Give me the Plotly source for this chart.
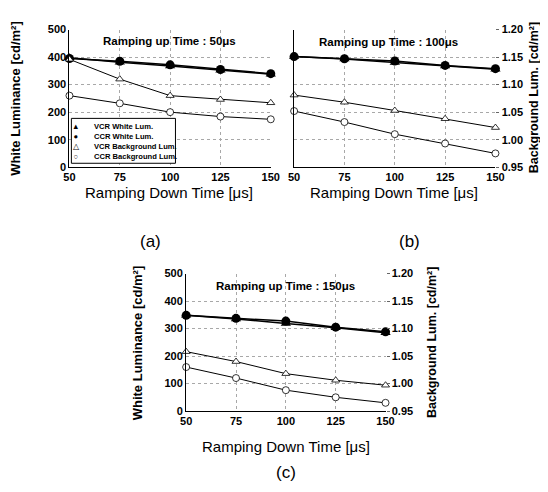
import plotly.graph_objects as go

W, H = 548, 492

ramp_down = [50, 75, 100, 125, 150]
x_ticks = [50, 75, 100, 125, 150]
white_ticks = [0, 100, 200, 300, 400, 500]
bg_ticks = [0.95, 1.00, 1.05, 1.10, 1.15, 1.20]

# (a) ramping up time 50 us
vcr_white_a = [398, 381, 368, 352, 338]
ccr_white_a = [395, 385, 372, 355, 340]
vcr_bg_a = [1.146, 1.110, 1.080, 1.073, 1.067]
ccr_bg_a = [1.080, 1.066, 1.050, 1.042, 1.037]

# (b) ramping up time 100 us
vcr_white_b = [402, 393, 380, 368, 356]
ccr_white_b = [402, 394, 386, 370, 358]
vcr_bg_b = [1.081, 1.068, 1.053, 1.038, 1.022]
ccr_bg_b = [1.052, 1.032, 1.010, 0.993, 0.975]

# (c) ramping up time 150 us
vcr_white_c = [348, 335, 318, 303, 285]
ccr_white_c = [348, 337, 327, 305, 288]
vcr_bg_c = [1.058, 1.040, 1.018, 1.006, 0.997]
ccr_bg_c = [1.030, 1.010, 0.988, 0.975, 0.965]

up_times = ["50", "100", "150"]
legend_labels = ["VCR White Lum.", "CCR White Lum.", "VCR Background Lum.", "CCR Background Lum."]
legend_symbols = ["▲", "●", "△", "○"]

FONT = "Liberation Sans, Arial, sans-serif"

def px_x(p):
    return p / W

def px_y(p):
    return 1 - p / H

fig = go.Figure()

def add_panel(xa, ya_w, ya_b, vw, cw, vb, cb):
    # white luminance (left scale)
    fig.add_trace(go.Scatter(x=ramp_down, y=vw, xaxis=xa, yaxis=ya_w, mode="lines+markers",
                             line=dict(color="black", width=1.5),
                             marker=dict(symbol="triangle-up", size=9, color="black"),
                             cliponaxis=False, name=legend_labels[0]))
    fig.add_trace(go.Scatter(x=ramp_down, y=cw, xaxis=xa, yaxis=ya_w, mode="lines+markers",
                             line=dict(color="black", width=1.5),
                             marker=dict(symbol="circle", size=9, color="black"),
                             cliponaxis=False, name=legend_labels[1]))
    # background luminance (right scale)
    fig.add_trace(go.Scatter(x=ramp_down, y=vb, xaxis=xa, yaxis=ya_b, mode="lines+markers",
                             line=dict(color="black", width=1),
                             marker=dict(symbol="triangle-up", size=7, color="white",
                                         line=dict(color="black", width=0.8)),
                             cliponaxis=False, name=legend_labels[2]))
    fig.add_trace(go.Scatter(x=ramp_down, y=cb, xaxis=xa, yaxis=ya_b, mode="lines+markers",
                             line=dict(color="black", width=1),
                             marker=dict(symbol="circle", size=7, color="white",
                                         line=dict(color="black", width=0.8)),
                             cliponaxis=False, name=legend_labels[3]))

add_panel("x", "y", "y2", vcr_white_a, ccr_white_a, vcr_bg_a, ccr_bg_a)
add_panel("x2", "y3", "y4", vcr_white_b, ccr_white_b, vcr_bg_b, ccr_bg_b)
add_panel("x3", "y5", "y6", vcr_white_c, ccr_white_c, vcr_bg_c, ccr_bg_c)

tickfont = dict(family=FONT, size=11, color="black", weight="bold")
grid = dict(showgrid=True, gridcolor="#a8a8a8", griddash="dot", gridwidth=1)

def xaxis(domain, anchor):
    return dict(domain=domain, anchor=anchor, range=[50, 150], tickvals=x_ticks,
                showline=True, linecolor="black", linewidth=1.2, zeroline=False,
                ticks="", tickfont=tickfont, **grid)

def yleft(domain, anchor, visible_labels=True, show_grid=True):
    d = dict(domain=domain, anchor=anchor, range=[0, 500], tickvals=white_ticks,
             showline=True, linecolor="black", linewidth=1.2, zeroline=False,
             ticks="", tickfont=tickfont, showticklabels=visible_labels)
    if show_grid:
        d.update(grid)
    else:
        d["showgrid"] = False
    return d

def yright(overlay, anchor, visible=True, show_grid=False):
    d = dict(overlaying=overlay, anchor=anchor, side="right", range=[0.95, 1.20],
             tickvals=bg_ticks, tickformat=".2f", showline=False, zeroline=False,
             ticks="outside", ticklen=3, tickcolor="#666", tickfont=tickfont,
             visible=visible)
    if show_grid:
        d.update(grid)
    else:
        d["showgrid"] = False
    return d

dom_top_y = [px_y(157), px_y(16)]
dom_c_y = [px_y(407), px_y(266)]

fig.update_layout(
    width=W, height=H, margin=dict(l=0, r=0, t=0, b=0),
    paper_bgcolor="white", plot_bgcolor="white", showlegend=False,
    xaxis=xaxis([px_x(57), px_x(264)], "y"),
    yaxis=yleft(dom_top_y, "x"),
    yaxis2=yright("y", "x", visible=False),
    xaxis2=xaxis([px_x(288), px_x(495)], "y3"),
    yaxis3=yleft(dom_top_y, "x2", visible_labels=False, show_grid=False),
    yaxis4=yright("y3", "x2", visible=True, show_grid=True),
    xaxis3=xaxis([px_x(177), px_x(382)], "y5"),
    yaxis5=yleft(dom_c_y, "x3"),
    yaxis6=yright("y5", "x3", visible=True, show_grid=False),
)

ann = []

def text(x, y, s, size, bold=False, angle=0, xanchor="center", align="center"):
    ann.append(dict(x=px_x(x), y=px_y(y), xref="paper", yref="paper", text=s,
                    showarrow=False, xanchor=xanchor, yanchor="middle", textangle=angle,
                    align=align, borderpad=0,
                    font=dict(family=FONT, size=size, color="black",
                              weight="bold" if bold else "normal")))

# panel titles
text(160, 28, "Ramping up Time : " + up_times[0] + "μs", 11.5, bold=True)
text(385, 29, "Ramping up Time : " + up_times[1] + "μs", 11.5, bold=True)
text(279, 279, "Ramping up Time : " + up_times[2] + "μs", 11.5, bold=True)

# x-axis titles
xt = "Ramping Down Time [μs]"
text(159, 183, xt, 15)
text(391, 183, xt, 15)
text(280, 443, xt, 15)

# y-axis titles
text(2, 86, "White Luminance [cd/m²]", 13, bold=True, angle=-90)
text(127, 337, "White Luminance [cd/m²]", 13, bold=True, angle=-90)
text(535, 86, "Background Lum. [cd/m²]", 12.5, bold=True, angle=-90)
text(430, 337, "Background Lum. [cd/m²]", 12.5, bold=True, angle=-90)

# panel labels
text(140, 233, "(a)", 17)
text(407, 233, "(b)", 17)
text(280, 470, "(c)", 17)

# legend in panel (a)
fig.add_shape(type="rect", xref="paper", yref="paper",
              x0=px_x(59), x1=px_x(166), y0=px_y(153), y1=px_y(107),
              line=dict(color="black", width=1), fillcolor="white", layer="above")
text(64, 131, "<br>".join(legend_symbols), 7.6, align="center")
text(81, 131, "<br>".join(legend_labels), 7.6, bold=True, xanchor="left", align="left")

fig.update_layout(annotations=ann)

fig.write_html("out.html")
